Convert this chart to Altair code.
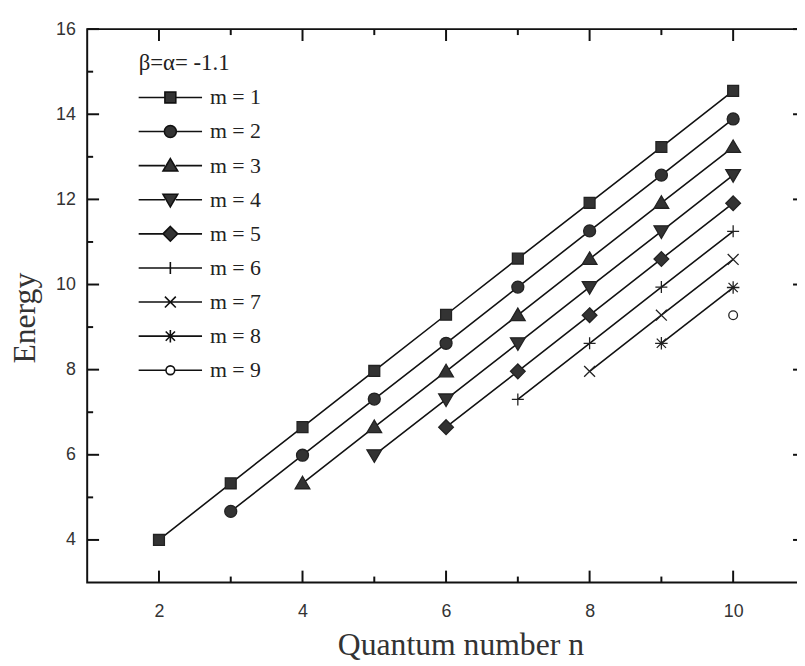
import altair as alt
import pandas as pd

# ---------------- data ----------------
m_labels = ["m = 1", "m = 2", "m = 3", "m = 4", "m = 5", "m = 6", "m = 7", "m = 8", "m = 9"]
n_start = [2, 3, 4, 5, 6, 7, 8, 9, 10]
E_m1 = [4.00, 5.33, 6.65, 7.97, 9.29, 10.61, 11.92, 13.23, 14.55]
E_m2 = [4.67, 5.99, 7.31, 8.62, 9.94, 11.26, 12.57, 13.89]
E_m3 = [5.33, 6.65, 7.96, 9.28, 10.60, 11.92, 13.23]
E_m4 = [5.99, 7.30, 8.62, 9.94, 11.25, 12.57]
E_m5 = [6.65, 7.96, 9.28, 10.60, 11.91]
E_m6 = [7.30, 8.62, 9.94, 11.25]
E_m7 = [7.96, 9.28, 10.59]
E_m8 = [8.62, 9.93]
E_m9 = [9.28]
series = [E_m1, E_m2, E_m3, E_m4, E_m5, E_m6, E_m7, E_m8, E_m9]

x_major = [2, 4, 6, 8, 10]
x_minor = [3, 5, 7, 9]
y_major = [4, 6, 8, 10, 12, 14, 16]
y_minor = [5, 7, 9, 11, 13, 15]

rows = []
for lab, n0, vals in zip(m_labels, n_start, series):
    for j, e in enumerate(vals):
        rows.append({"n": n0 + j, "E": e, "m": lab})
df = pd.DataFrame(rows)

# ---------------- styles ----------------
W, H = 725, 559
INK = "#111111"
MFILL = "#333333"

markers = [
    "M-1,-1H1V1H-1Z",
    "M1.1,0A1.1,1.1 0 1,1 -1.1,0A1.1,1.1 0 1,1 1.1,0Z",
    "M0,-1.3L1.35,1.0L-1.35,1.0Z",
    "M0,1.3L1.35,-1.0L-1.35,-1.0Z",
    "M0,-1.35L1.35,0L0,1.35L-1.35,0Z",
    "M-1.1,0H1.1M0,-1.1V1.1",
    "M-1,-1L1,1M-1,1L1,-1",
    "M-1.15,0H1.15M0,-1.15V1.15M-0.85,-0.85L0.85,0.85M-0.85,0.85L0.85,-0.85",
    "M0.8,0A0.8,0.8 0 1,1 -0.8,0A0.8,0.8 0 1,1 0.8,0Z",
]
gaps = [1.0, 1.1, 1.0, 1.0, 1.35, 0.0, 0.0, 0.0, 0.8]
L = 5.82
legend_paths = [
    (f"M{-L},0H{-g}M{g},0H{L}" if g > 0 else f"M{-L},0H{L}") + p
    for p, g in zip(markers, gaps)
]
fills = [MFILL] * 5 + ["none", "none", "none", "white"]
strokes = [INK] * 9

xs = alt.Scale(domain=[1, 11], nice=False, zero=False)
ys = alt.Scale(domain=[3, 16], nice=False, zero=False)

xaxis = alt.Axis(values=x_major, title="Quantum number n", domain=False, ticks=False,
                 tickSize=0, grid=False, labelPadding=20, titleX=377, titleY=73,
                 titleBaseline="alphabetic", format="d")
yaxis = alt.Axis(values=y_major, title="Energy", domain=False, ticks=False,
                 tickSize=0, grid=False, labelPadding=12, titleX=-53, titleY=291.5,
                 titleBaseline="alphabetic", format="d")


def X(field):
    return alt.X(field, type="quantitative", scale=xs, axis=xaxis)


def Y(field):
    return alt.Y(field, type="quantitative", scale=ys, axis=yaxis)


xmaj = pd.DataFrame({"v": x_major})
xmin = pd.DataFrame({"v": x_minor})
ymaj = pd.DataFrame({"v": y_major})
ymin = pd.DataFrame({"v": y_minor})

tick_layers = []
for d, ln in [(xmaj, 12), (xmin, 6)]:
    tick_layers.append(alt.Chart(d).mark_rule(color=INK, strokeWidth=2).encode(
        x=X("v"), y=alt.value(H), y2=alt.value(H - ln)))
    tick_layers.append(alt.Chart(d).mark_rule(color=INK, strokeWidth=2).encode(
        x=X("v"), y=alt.value(0), y2=alt.value(ln)))
for d, ln in [(ymaj, 12), (ymin, 6)]:
    tick_layers.append(alt.Chart(d).mark_rule(color=INK, strokeWidth=2).encode(
        y=Y("v"), x=alt.value(0), x2=alt.value(ln)))
    tick_layers.append(alt.Chart(d).mark_rule(color=INK, strokeWidth=2).encode(
        y=Y("v"), x=alt.value(W), x2=alt.value(W - ln)))

lines = alt.Chart(df).mark_line(color=INK, strokeWidth=1.6).encode(
    x=X("n"), y=Y("E"), detail="m:N")

points = alt.Chart(df).mark_point(filled=False, opacity=1, size=121, strokeWidth=1.3).encode(
    x=X("n"), y=Y("E"),
    shape=alt.Shape("m:N", scale=alt.Scale(domain=m_labels, range=markers), legend=None),
    fill=alt.Fill("m:N", scale=alt.Scale(domain=m_labels, range=fills), legend=None),
    stroke=alt.value("#222222"),
)

leg = alt.Legend(
    orient="none", legendX=52, legendY=23, title="β=α= -1.1",
    titleFont="Liberation Serif", titleFontSize=23, titleFontWeight="normal",
    titleColor="#222222", titlePadding=12,
    labelFont="Liberation Serif", labelFontSize=22, labelColor="#222222",
    symbolSize=121, symbolStrokeWidth=1.6, symbolOffset=21, labelOffset=29,
    rowPadding=12.45, padding=0, symbolOpacity=1,
)
leg_df = pd.DataFrame({"leg": m_labels})
legend_layer = alt.Chart(leg_df).transform_filter("false").mark_point(
    filled=False, opacity=1, size=121, strokeWidth=1.6).encode(
    shape=alt.Shape("leg:N", scale=alt.Scale(domain=m_labels, range=legend_paths), legend=leg),
    fill=alt.Fill("leg:N", scale=alt.Scale(domain=m_labels, range=fills), legend=leg),
    stroke=alt.Stroke("leg:N", scale=alt.Scale(domain=m_labels, range=strokes), legend=leg),
)

chart = alt.layer(*tick_layers, lines, points, legend_layer).resolve_scale(
    shape="independent", fill="independent", stroke="independent"
).properties(
    width=W, height=H,
    autosize=alt.AutoSizeParams(type="none"),
    padding={"left": 80, "top": 18, "right": -8, "bottom": 80},
).configure_view(
    stroke=INK, strokeWidth=2
).configure_axis(
    labelFont="Liberation Sans", labelFontSize=18, labelColor="#333333",
    titleFont="Liberation Serif", titleFontSize=32, titleFontWeight="normal",
    titleColor="#333333",
)

chart.save("out.html", embed_options={"renderer": "svg", "actions": False})
